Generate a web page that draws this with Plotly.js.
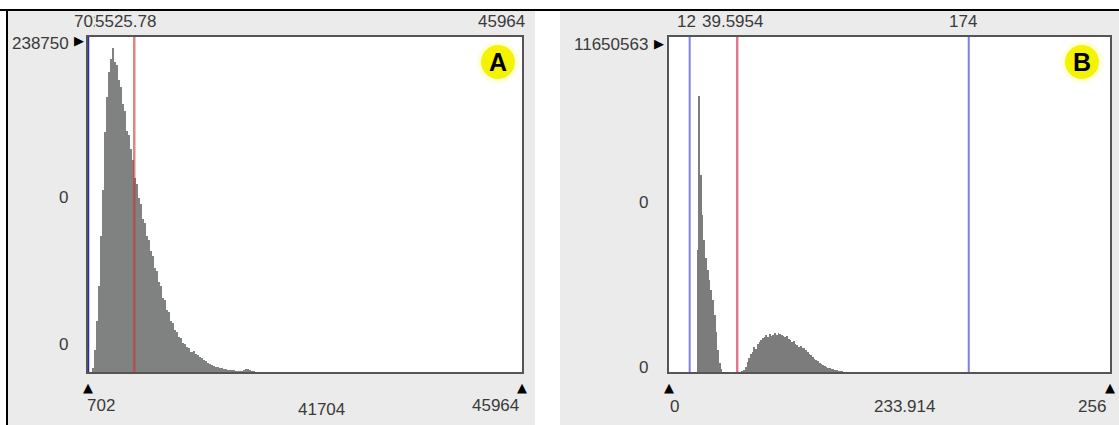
<!DOCTYPE html>
<html>
<head>
<meta charset="utf-8">
<script src="https://cdn.plot.ly/plotly-3.0.1.min.js"></script>
<style>html,body{margin:0;padding:0;background:#fff;}#chart{width:1119px;height:425px;}</style>
</head>
<body>
<div id="chart"></div>
<script>
// ---------- Panel A data ----------
const rangeA = [702, 45964];
const binStartA = 1100;
const binWidthA = 210;
const countsA = [2500, 16000, 36000, 61000, 97000, 130000, 171000, 196000, 214000, 223000,
  231000, 221000, 219000, 208000, 203000, 191000, 186000, 172000, 169000, 159000,
  151000, 138000, 134000, 124000, 120000, 109000, 106000, 97000, 94000, 86000,
  83000, 74000, 72000, 64000, 61000, 53000, 51000, 44000, 42500, 36500,
  35000, 30000, 28500, 25000, 24000, 21000, 20000, 17500, 16800, 14500,
  15000, 12500, 12300, 10700, 10100, 8400, 7900, 6300, 6000, 4700,
  4500, 3500, 3400, 2600, 2700, 2000, 2100, 1500, 1700, 1100,
  1300, 900, 1000, 700, 1000, 1500, 2200, 1900, 1300, 700,
  500, 250, 200, 80];
const maxA = 238750;
const blueA = [702];
const redA = [5525.78];
const topLabelsA = ["702", "5525.78", "45964"];
const bottomLabelsA = ["702", "41704", "45964"];
const yLabelsA = ["238750", "0", "0"];

// ---------- Panel B data ----------
const rangeB = [0, 256];
const binStartB = 15;
const binWidthB = 1;
const countsB = [0, 4240000, 9600000, 6850000, 5460000, 4600000, 3960000, 3550000, 3200000, 2850000,
  2500000, 1980000, 1390000, 770000, 310000, 100000, 0, 0, 0, 0,
  0, 0, 0, 0, 0, 0, 0, 50000, 80000, 190000,
  360000, 470000, 620000, 700000, 860000, 800000, 980000, 1060000, 1100000, 1180000,
  1210000, 1270000, 1230000, 1310000, 1260000, 1290000, 1350000, 1300000, 1370000, 1310000,
  1280000, 1260000, 1210000, 1240000, 1140000, 1120000, 1060000, 1070000, 960000, 950000,
  880000, 900000, 820000, 840000, 760000, 710000, 640000, 600000, 530000, 460000,
  430000, 370000, 320000, 290000, 230000, 220000, 160000, 150000, 130000, 100000,
  110000, 70000, 75000, 40000, 35000, 30000, 10000];
const maxB = 11650563;
const blueB = [12, 174];
const redB = [39.5954];
const topLabelsB = ["12", "39.5954", "174"];
const bottomLabelsB = ["0", "233.914", "256"];
const yLabelsB = ["11650563", "0", "0"];

// ---------- helpers ----------
const W = 1119, H = 425;
const px = v => v / W;            // canvas px -> paper x
const py = v => 1 - v / H;        // canvas px -> paper y
const centers = (start, w, arr) => arr.map((_, i) => start + w * (i + 0.5));

const font = {family: "Liberation Sans, Arial, sans-serif", size: 17, color: "#3a3a3a"};
const triFont = {family: "DejaVu Sans, sans-serif", size: 13, color: "#000"};

const traces = [
  {type: "bar", x: centers(binStartA, binWidthA, countsA), y: countsA, width: binWidthA,
   marker: {color: "#808282", line: {width: 0}}, xaxis: "x", yaxis: "y", hoverinfo: "skip"},
  {type: "bar", x: centers(binStartB, binWidthB, countsB), y: countsB, width: binWidthB,
   marker: {color: "#7c7c7c", line: {width: 0}}, xaxis: "x2", yaxis: "y2", hoverinfo: "skip"}
];

const axisStyle = {showticklabels: false, ticks: "", showgrid: false, zeroline: false,
  showline: true, mirror: true, linecolor: "#555555", linewidth: 2, fixedrange: true};
const yDom = [py(372), py(37)];

const shapes = [
  // panel backgrounds
  {type: "rect", xref: "paper", yref: "paper", x0: px(7), x1: px(535), y0: 0, y1: py(10),
   fillcolor: "#ebebeb", line: {width: 0}, layer: "below"},
  {type: "rect", xref: "paper", yref: "paper", x0: px(560), x1: 1, y0: 0, y1: py(10),
   fillcolor: "#ebebeb", line: {width: 0}, layer: "below"},
  // plot areas
  {type: "rect", xref: "x domain", yref: "y domain", x0: 0, x1: 1, y0: 0, y1: 1,
   fillcolor: "#ffffff", line: {width: 0}, layer: "below"},
  {type: "rect", xref: "x2 domain", yref: "y2 domain", x0: 0, x1: 1, y0: 0, y1: 1,
   fillcolor: "#ffffff", line: {width: 0}, layer: "below"},
  // outer black frame
  {type: "line", xref: "paper", yref: "paper", x0: 0, x1: 1, y0: py(10), y1: py(10),
   line: {color: "#000", width: 2}},
  {type: "line", xref: "paper", yref: "paper", x0: px(7), x1: px(7), y0: 0, y1: py(10),
   line: {color: "#000", width: 2}}
];
blueA.forEach(v => shapes.push({type: "line", xref: "x", yref: "y domain", x0: v, x1: v, y0: 0, y1: 1,
  line: {color: "#2a2ab4", width: 2.5}}));
redA.forEach(v => shapes.push({type: "line", xref: "x", yref: "y domain", x0: v, x1: v, y0: 0, y1: 1,
  line: {color: "rgba(205,50,50,0.6)", width: 2.5}}));
blueB.forEach(v => shapes.push({type: "line", xref: "x2", yref: "y2 domain", x0: v, x1: v, y0: 0, y1: 1,
  line: {color: "#7f7fe6", width: 2}}));
redB.forEach(v => shapes.push({type: "line", xref: "x2", yref: "y2 domain", x0: v, x1: v, y0: 0, y1: 1,
  line: {color: "#e07a92", width: 2.5}}));
// yellow badges
[[498, 62], [1082, 62]].forEach(([cx, cy]) => {
  shapes.push({type: "circle", xref: "paper", yref: "paper", x0: px(cx - 21), x1: px(cx + 21),
    y0: py(cy + 21), y1: py(cy - 21), fillcolor: "rgba(255,255,120,0.25)", line: {width: 0}});
  shapes.push({type: "circle", xref: "paper", yref: "paper", x0: px(cx - 17), x1: px(cx + 17),
    y0: py(cy + 17), y1: py(cy - 17), fillcolor: "#f4f400", line: {width: 0}});
});

const ann = [];
const add = o => ann.push(Object.assign({showarrow: false, font: font, yanchor: "middle"}, o));
// Panel A top labels
add({xref: "x", yref: "paper", x: rangeA[0], y: py(21), text: topLabelsA[0], xanchor: "center"});
add({xref: "x", yref: "paper", x: redA[0], y: py(21), text: topLabelsA[1], xanchor: "center", xshift: -9,
     bgcolor: "#ebebeb", borderpad: 0});
add({xref: "x", yref: "paper", x: rangeA[1], y: py(21), text: topLabelsA[2], xanchor: "right", xshift: 5});
// Panel A bottom labels
add({xref: "x", yref: "paper", x: rangeA[0], y: py(405), text: bottomLabelsA[0], xanchor: "left", xshift: -3});
add({xref: "paper", yref: "paper", x: px(321), y: py(409), text: bottomLabelsA[1], xanchor: "center"});
add({xref: "x", yref: "paper", x: rangeA[1], y: py(405), text: bottomLabelsA[2], xanchor: "right", xshift: -1});
// Panel A y labels
add({xref: "paper", yref: "paper", x: px(71), y: py(43), text: yLabelsA[0], xanchor: "right"});
add({xref: "paper", yref: "paper", x: px(63), y: py(197), text: yLabelsA[1], xanchor: "center"});
add({xref: "paper", yref: "paper", x: px(63), y: py(344), text: yLabelsA[2], xanchor: "center"});
// Panel B top labels
add({xref: "x2", yref: "paper", x: blueB[0], y: py(21), text: topLabelsB[0], xanchor: "center", xshift: -3});
add({xref: "x2", yref: "paper", x: redB[0], y: py(21), text: topLabelsB[1], xanchor: "center", xshift: -5,
     bgcolor: "#ebebeb", borderpad: 0});
add({xref: "x2", yref: "paper", x: blueB[1], y: py(21), text: topLabelsB[2], xanchor: "center", xshift: -6});
// Panel B bottom labels
add({xref: "x2", yref: "paper", x: rangeB[0], y: py(406), text: bottomLabelsB[0], xanchor: "left", xshift: -1});
add({xref: "paper", yref: "paper", x: px(905), y: py(406), text: bottomLabelsB[1], xanchor: "center"});
add({xref: "x2", yref: "paper", x: rangeB[1], y: py(406), text: bottomLabelsB[2], xanchor: "right", xshift: -2});
// Panel B y labels
add({xref: "paper", yref: "paper", x: px(650), y: py(45), text: yLabelsB[0], xanchor: "right"});
add({xref: "paper", yref: "paper", x: px(643), y: py(202), text: yLabelsB[1], xanchor: "center"});
add({xref: "paper", yref: "paper", x: px(643), y: py(367), text: yLabelsB[2], xanchor: "center"});
// slider triangles
add({xref: "x", yref: "paper", x: rangeA[0], y: py(387), text: "▲", font: triFont, xanchor: "center"});
add({xref: "x", yref: "paper", x: rangeA[1], y: py(387), text: "▲", font: triFont, xanchor: "center"});
add({xref: "x2", yref: "paper", x: rangeB[0], y: py(387), text: "▲", font: triFont, xanchor: "center"});
add({xref: "x2", yref: "paper", x: rangeB[1], y: py(387), text: "▲", font: triFont, xanchor: "center"});
add({xref: "paper", yref: "paper", x: px(79), y: py(41), text: "▶", font: triFont, xanchor: "center"});
add({xref: "paper", yref: "paper", x: px(659), y: py(44), text: "▶", font: triFont, xanchor: "center"});
// badge letters
add({xref: "paper", yref: "paper", x: px(498), y: py(62), text: "<b>A</b>",
     font: {family: "Liberation Sans, Arial, sans-serif", size: 25, color: "#000"}, xanchor: "center"});
add({xref: "paper", yref: "paper", x: px(1082), y: py(62), text: "<b>B</b>",
     font: {family: "Liberation Sans, Arial, sans-serif", size: 25, color: "#000"}, xanchor: "center"});

const layout = {
  width: W, height: H,
  margin: {l: 0, r: 0, t: 0, b: 0},
  paper_bgcolor: "#ffffff",
  plot_bgcolor: "rgba(0,0,0,0)",
  showlegend: false,
  bargap: 0,
  font: font,
  xaxis: Object.assign({domain: [px(88), px(522)], range: rangeA, anchor: "y"}, axisStyle),
  yaxis: Object.assign({domain: yDom, range: [0, maxA], anchor: "x"}, axisStyle),
  xaxis2: Object.assign({domain: [px(669), px(1110)], range: rangeB, anchor: "y2"}, axisStyle),
  yaxis2: Object.assign({domain: yDom, range: [0, maxB], anchor: "x2"}, axisStyle),
  shapes: shapes,
  annotations: ann
};

Plotly.newPlot("chart", traces, layout, {displayModeBar: false, staticPlot: true});
</script>
</body>
</html>
